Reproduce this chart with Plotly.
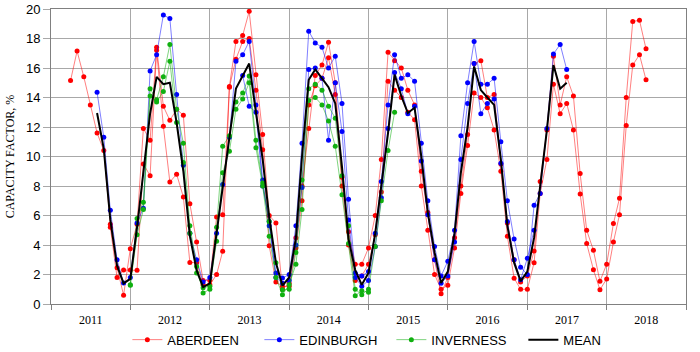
import pandas as pd
import plotly.graph_objects as go

# ---------------- data (monthly capacity factor, %) ----------------
ABERDEEN_1_START = "2011-04-01"
ABERDEEN_1 = [15.15, 17.15, 15.4, 13.5, 11.6, 10.4, 5.4, 2.45, 0.6,
              3.75, 5.4, 11.9, 11.1, 17.4, 13.4, 12.45, 13.2, 12.8, 6.8, 4.2, 1.6,
              1.6, 5.9, 6.05, 14.75, 17.8, 18.2, 19.84, 15.55, 11.5, 6.0, 5.5, 1.0,
              1.4, 4.5, 8.0, 11.9, 15.5, 16.2, 17.75, 15.0, 8.6, 4.9, 2.7, 2.7,
              3.8, 6.0, 9.8, 17.06, 16.5, 16.0, 14.5, 13.5, 9.0, 6.2, 3.0, 0.7,
              1.8, 4.5, 8.0, 11.5, 16.3, 16.5, 14.0, 14.2, 9.5, 5.5, 3.0, 1.5,
              1.9, 3.6, 8.3, 11.8, 16.8, 13.5, 15.4, 14.1, 8.84, 5.0, 3.64, 1.54,
              2.7, 5.45, 7.17, 14.0, 19.16, 19.23, 17.3]

ABERDEEN_2_START = "2011-10-01"
ABERDEEN_2 = [5.2, 1.8, 2.3,
              2.3, 2.28, 9.5, 8.7, 17.2, 12.05, 8.27, 8.8, 7.25, 2.82, 2.8, 1.3,
              1.3, 2.0, 3.57, 14.7, 16.6, 17.8, 18.0, 14.5, 10.46, 3.95, 1.5, 1.2,
              1.2, 3.8, 7.0, 13.5, 14.8, 15.3, 16.7, 14.2, 8.0, 4.0, 1.6, 1.9,
              2.7, 4.7, 7.6, 15.1, 14.5, 14.0, 13.0, 12.5, 8.0, 5.0, 2.0, 1.0,
              1.27, 3.8, 7.5, 10.75, 14.3, 14.0, 13.3, 11.8, 9.0, 4.6, 1.75, 1.0,
              1.0, 2.8, 7.5, 9.8, 14.9, 12.9, 13.6, 11.8, 7.46, 4.1, 2.33, 0.97,
              1.7, 4.2, 6.05, 12.1, 16.2, 16.9, 15.2]

EDINBURGH_1_START = "2011-08-01"
EDINBURGH_1 = [14.35, 11.3, 6.35, 3.0, 1.42,
               1.8, 5.5, 6.5, 15.8, 16.9, 19.6, 19.35, 14.2, 9.4, 4.8, 3.0, 1.5,
               1.8, 4.8, 8.1, 11.3, 16.45, 16.9, 17.8, 13.5, 8.4, 5.3, 2.1, 1.76,
               2.0, 5.3, 10.9, 18.5, 17.7, 17.4, 16.0, 16.8, 13.6, 7.1, 2.1, 1.9,
               2.2, 4.8, 8.3, 13.5, 16.9, 15.3, 15.55, 15.1, 10.9, 7.0, 3.9, 1.9,
               2.9, 5.0, 11.4, 15.0, 17.8, 14.9, 14.9, 15.3, 11.0, 7.0, 4.4, 2.5,
               2.0, 6.7, 7.5, 11.9, 16.95, 17.6, 15.9]

EDINBURGH_2_START = "2013-06-01"
EDINBURGH_2 = [15.5, 13.4, 13.0, 8.0, 5.6, 1.8, 1.4,
               1.6, 4.0, 7.9, 15.9, 16.0, 15.3, 11.1, 15.0, 11.7, 5.7, 1.8, 1.2,
               1.6, 3.9, 7.2, 11.9, 15.7, 14.6, 12.9, 13.4, 9.7, 6.05, 3.0, 1.4,
               1.9, 4.2, 9.8, 13.6, 16.3, 12.9, 13.6, 13.9, 9.55, 5.6, 3.0, 1.65,
               3.1, 5.0]

INVERNESS_1_START = "2012-01-01"
INVERNESS_1 = [1.27, 5.8, 6.9, 14.6, 13.85, 15.4, 17.6, 13.2, 10.9, 5.3, 2.55, 0.75,
               1.0, 5.2, 10.7, 11.4, 13.7, 14.3, 15.45, 11.1, 8.2, 5.6, 2.8, 0.97,
               1.0, 3.5, 8.4, 14.6, 14.9, 14.5, 13.4, 12.6, 8.7, 5.3, 1.0, 0.63,
               1.0, 3.9, 7.0, 10.4, 13.0]

INVERNESS_2_START = "2012-01-01"
INVERNESS_2 = [1.3, 4.7, 6.4, 14.1, 13.7, 14.4, 16.45, 12.3, 9.6, 4.8, 2.1, 1.1,
               1.2, 4.25, 8.9, 10.35, 13.2, 13.9, 15.0, 10.6, 8.0, 4.6, 1.8, 0.63,
               1.3, 2.7, 6.4, 13.8, 14.0, 13.5, 12.4, 10.7, 7.4, 4.1, 0.56, 0.9,
               0.8]

MEAN_START = "2011-08-01"
MEAN = [12.95, 10.5, 5.7, 2.6, 1.4,
        1.7, 5.2, 9.0, 12.9, 15.4, 14.9, 15.0, 12.3, 9.0, 4.6, 2.3, 1.15,
        1.4, 4.7, 8.0, 11.3, 14.6, 15.5, 16.3, 13.0, 9.8, 5.9, 2.8, 1.25,
        1.8, 4.5, 10.0, 15.2, 15.9, 15.3, 14.7, 13.6, 9.3, 4.4, 2.3, 1.3,
        2.1, 4.8, 8.0, 11.6, 15.55, 14.1, 12.95, 13.3, 10.0, 6.2, 3.5, 1.42,
        2.2, 4.8, 8.9, 12.0, 16.1, 14.5, 14.0, 13.5, 9.8, 5.3, 2.8, 1.55,
        2.2, 4.5, 8.0, 11.8, 16.2, 14.6, 15.0]

YEAR_FIRST, YEAR_LAST = 2011, 2018

# ---------------- figure ----------------
def months(start, values):
    return pd.date_range(start, periods=len(values), freq="MS")

fig = go.Figure()

city_series = [
    ("ABERDEEN", "#ff0000", "rgba(255,0,0,0.5)",
     [(ABERDEEN_1_START, ABERDEEN_1), (ABERDEEN_2_START, ABERDEEN_2)]),
    ("EDINBURGH", "#0000ff", "rgba(0,0,255,0.5)",
     [(EDINBURGH_1_START, EDINBURGH_1), (EDINBURGH_2_START, EDINBURGH_2)]),
    ("INVERNESS", "#10b010", "rgba(0,170,0,0.5)",
     [(INVERNESS_1_START, INVERNESS_1), (INVERNESS_2_START, INVERNESS_2)]),
]

for name, mcol, lcol, series in city_series:
    for i, (start, vals) in enumerate(series):
        fig.add_trace(go.Scatter(
            x=months(start, vals), y=vals, mode="lines+markers",
            name=name, legendgroup=name, showlegend=(i == 0),
            line=dict(color=lcol, width=1),
            marker=dict(color=mcol, size=5, symbol="circle"),
        ))

fig.add_trace(go.Scatter(
    x=months(MEAN_START, MEAN), y=MEAN, mode="lines", name="MEAN",
    line=dict(color="black", width=2),
))

grid = "#a8a8a8"
axis_line = "#808080"

fig.update_layout(
    width=700, height=352,
    margin=dict(l=51, r=14, t=9, b=48, autoexpand=False),
    paper_bgcolor="white", plot_bgcolor="white",
    showlegend=True,
    legend=dict(
        orientation="h", xref="paper", x=0.536, xanchor="center",
        yref="container", y=0.035, yanchor="middle",
        font=dict(family="Liberation Sans, Arial, sans-serif", size=13, color="black"),
        itemwidth=30, entrywidth=87, entrywidthmode="pixels",
        tracegroupgap=0, bgcolor="rgba(0,0,0,0)",
    ),
    xaxis=dict(
        type="date",
        range=[f"{YEAR_FIRST}-01-01", f"{YEAR_LAST + 1}-01-01"],
        tick0=f"{YEAR_FIRST}-01-01", dtick="M12",
        tickformat="%Y", ticklabelmode="period",
        showgrid=True, gridcolor=grid, gridwidth=1,
        ticks="outside", ticklen=5, tickcolor=axis_line,
        showline=True, linecolor=axis_line, linewidth=1, mirror=True,
        tickfont=dict(family="Liberation Serif, Times New Roman, serif", size=12, color="black"),
        zeroline=False,
    ),
    yaxis=dict(
        range=[0, 20], dtick=2, tick0=0,
        showgrid=True, gridcolor=grid, gridwidth=1,
        ticks="outside", ticklen=7, tickcolor=grid,
        showline=True, linecolor=axis_line, linewidth=1, mirror=True,
        tickfont=dict(family="Liberation Sans, Arial, sans-serif", size=13, color="black"),
        title=dict(text="CAPACITY FACTOR, %", standoff=8,
                   font=dict(family="Liberation Serif, Times New Roman, serif", size=12, color="black")),
        zeroline=False,
    ),
)

fig.write_html("out.html")
